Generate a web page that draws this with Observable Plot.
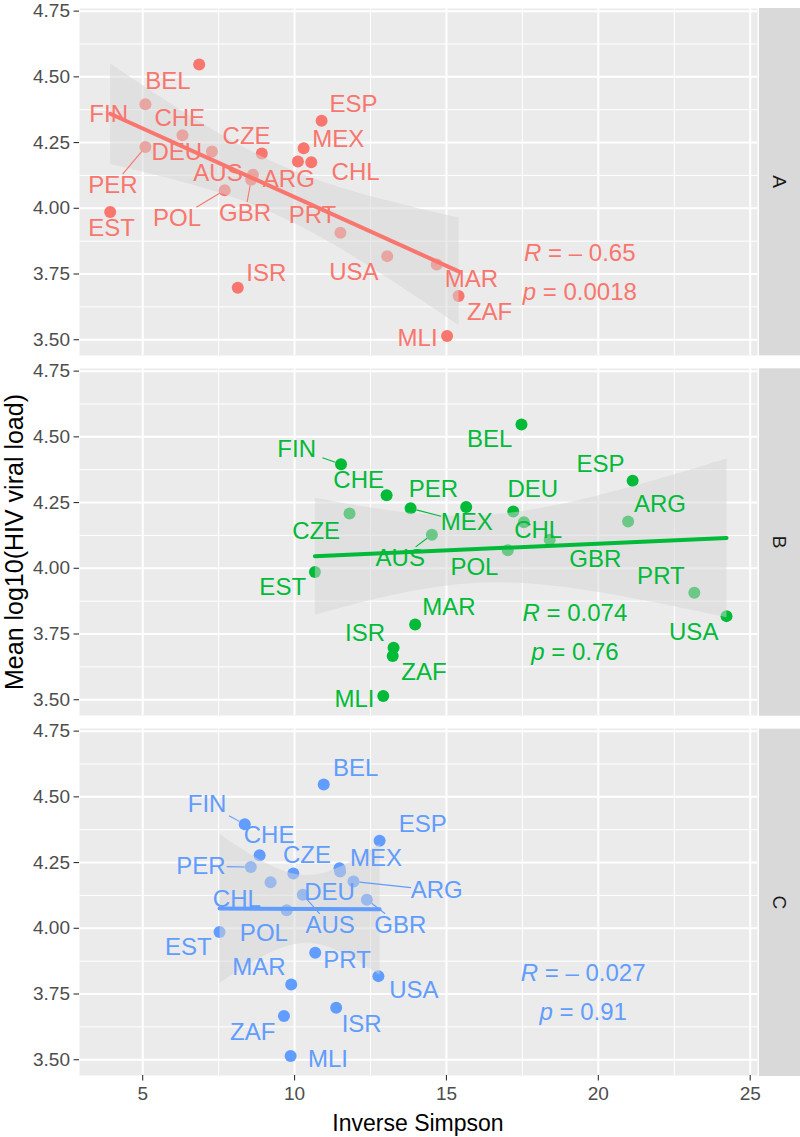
<!DOCTYPE html>
<html>
<head>
<meta charset="utf-8">
<script src="https://cdn.jsdelivr.net/npm/d3@7"></script>
<script src="https://cdn.jsdelivr.net/npm/@observablehq/plot@0.6"></script>
<style>
  body { margin: 0; background: #ffffff; }
  #chart { width: 800px; height: 1137px; }
</style>
</head>
<body>
<div id="chart"></div>
<script>
// ---------------- data ----------------
const panels = ["A", "B", "C"];
const panelColors = ["#F8766D", "#00BA38", "#619CFF"];

const countries = ["ARG","AUS","BEL","CHE","CHL","CZE","DEU","ESP","EST","FIN",
                   "GBR","ISR","MAR","MEX","MLI","PER","POL","PRT","USA","ZAF"];

// Mean log10(HIV viral load) per country (same in every panel)
const viralLoad = [4.178, 4.128, 4.547, 4.278, 4.175, 4.208, 4.216, 4.333, 3.986, 4.396,
                   4.109, 3.698, 3.786, 4.228, 3.514, 4.233, 4.069, 3.907, 3.818, 3.666];

// Inverse Simpson per panel
const invSimpsonA = [10.11, 8.63, 6.86, 6.31, 10.55, 8.92, 7.28, 10.89, 3.93, 5.09,
                     8.57, 8.13, 14.68, 10.30, 15.02, 5.09, 7.70, 11.51, 13.05, 15.40];
const invSimpsonB = [20.98, 14.52, 17.47, 13.03, 17.55, 11.81, 17.20, 21.13, 10.67, 11.53,
                     18.40, 13.26, 13.97, 13.82, 12.92, 15.65, 17.02, 23.16, 24.22, 13.23];
const invSimpsonC = [11.94, 10.27, 10.96, 8.85, 9.21, 9.96, 11.50, 12.80, 7.53, 8.36,
                     12.38, 11.37, 9.89, 11.48, 9.87, 8.56, 9.74, 10.68, 12.76, 9.65];

// Repelled label anchors (data units), as placed in the reference
const labelPosA = [[9.81,4.111],[7.48,4.132],[5.83,4.482],[6.22,4.342],[12.01,4.138],[8.42,4.274],
                   [6.12,4.214],[11.94,4.396],[3.98,3.922],[3.88,4.358],[8.37,3.979],[9.07,3.751],
                   [15.82,3.730],[11.44,4.264],[14.05,3.504],[4.02,4.086],[6.13,3.960],[10.59,3.973],
                   [11.95,3.755],[16.42,3.605]];
const labelPosB = [[22.03,4.243],[13.48,4.037],[16.42,4.489],[12.11,4.334],[18.02,4.144],[10.71,4.142],
                   [17.84,4.300],[20.07,4.397],[9.61,3.926],[10.07,4.454],[19.90,4.034],[12.32,3.752],
                   [15.08,3.850],[15.67,4.173],[11.97,3.500],[14.57,4.300],[15.92,4.005],[22.06,3.971],
                   [23.14,3.756],[14.26,3.604]];
const labelPosC = [[14.68,4.144],[11.17,4.011],[12.01,4.607],[9.16,4.352],[8.10,4.112],[10.41,4.277],
                   [11.15,4.137],[14.22,4.397],[6.50,3.927],[7.12,4.472],[13.48,4.011],[12.21,3.633],
                   [8.83,3.850],[12.68,4.266],[11.10,3.503],[6.92,4.236],[8.99,3.982],[11.73,3.879],
                   [13.93,3.765],[8.62,3.603]];

// Labels that have a leader segment in the reference
const leadersA = ["PER","POL","GBR"];
const leadersB = ["FIN","MEX","AUS"];
const leadersC = ["FIN","PER","ARG","GBR","AUS"];

// Correlation annotations
const statR = ["R = – 0.65", "R = 0.074", "R = – 0.027"];
const statP = ["p = 0.0018", "p = 0.76", "p = 0.91"];
const statX = [19.39, 19.23, 19.50];
const statRY = 3.83;
const statPY = 3.68;

// Axis ticks
const xTicks = [5, 10, 15, 20, 25];
const xMinorTicks = [7.5, 12.5, 17.5, 22.5];
const yTicks = [3.50, 3.75, 4.00, 4.25, 4.50, 4.75];
const yMinorTicks = [3.625, 3.875, 4.125, 4.375, 4.625];

const xTitle = "Inverse Simpson";
const yTitle = "Mean log10(HIV viral load)";

// ---------------- layout ----------------
const W = 800, H = 1137;
const mL = 79, mR = 43, mT = 8, mB = 61;
const xDomain = [2.92, 25.24];
const yDomain = [3.44, 4.76];
const fyPad = 0.036;
const step = (H - mT - mB) / (panels.length - fyPad);
const bandH = step * (1 - fyPad);
const kx = (W - mL - mR) / (xDomain[1] - xDomain[0]);
const ky = bandH / (yDomain[1] - yDomain[0]);
const labelSize = 24;
const ptR = 6;

const invSimpson = [invSimpsonA, invSimpsonB, invSimpsonC];
const labelPos = [labelPosA, labelPosB, labelPosC];
const leaders = [leadersA, leadersB, leadersC];

const rows = [];
const leaderRows = [];
panels.forEach((p, pi) => {
  countries.forEach((c, i) => {
    const [lx, ly] = labelPos[pi][i];
    const row = {panel: p, country: c, x: invSimpson[pi][i], y: viralLoad[i], lx, ly};
    rows.push(row);
    if (leaders[pi].includes(c)) {
      // pixel vector from label centre to point
      const dx = (row.x - lx) * kx;
      const dy = -(row.y - ly) * ky;
      const hw = c.length * 0.66 * labelSize / 2 + 2;
      const hh = 0.72 * labelSize / 2 + 3;
      const t = Math.min(dx ? hw / Math.abs(dx) : Infinity, dy ? hh / Math.abs(dy) : Infinity);
      const dist = Math.hypot(dx, dy);
      const te = 1 - (ptR) / dist;
      if (t < te) {
        leaderRows.push({
          panel: p,
          x1: lx + (t * dx) / kx, y1: ly - (t * dy) / ky,
          x2: lx + (te * dx) / kx, y2: ly - (te * dy) / ky
        });
      }
    }
  });
});

const statRows = [];
panels.forEach((p, pi) => {
  statRows.push({panel: p, sx: statX[pi], sy: statRY, label: statR[pi]});
  statRows.push({panel: p, sx: statX[pi], sy: statPY, label: statP[pi]});
});

// ---------------- chart ----------------
const chart = Plot.plot({
  width: W, height: H,
  marginLeft: mL, marginRight: mR, marginTop: mT, marginBottom: mB,
  style: {fontFamily: "'Liberation Sans', Arial, Helvetica, sans-serif", background: "#ffffff", overflow: "visible"},
  x: {domain: xDomain},
  y: {domain: yDomain},
  fy: {domain: panels, paddingInner: fyPad, paddingOuter: 0, axis: null, label: null},
  color: {domain: panels, range: panelColors},
  marks: [
    Plot.frame({fill: "#EBEBEB", stroke: "none"}),
    Plot.gridX({ticks: xMinorTicks, stroke: "#ffffff", strokeOpacity: 1, strokeWidth: 1}),
    Plot.gridY({ticks: yMinorTicks, stroke: "#ffffff", strokeOpacity: 1, strokeWidth: 1}),
    Plot.gridX({ticks: xTicks, stroke: "#ffffff", strokeOpacity: 1, strokeWidth: 2}),
    Plot.gridY({ticks: yTicks, stroke: "#ffffff", strokeOpacity: 1, strokeWidth: 2}),
    Plot.axisY({ticks: yTicks, anchor: "left", tickFormat: d3.format(".2f"), tickSize: 5.5, tickPadding: 4,
                fontSize: 19, fill: "#4D4D4D", stroke: "#333333", strokeWidth: 1.1, label: null}),
    Plot.axisX({ticks: xTicks, anchor: "bottom", facetAnchor: "bottom", tickFormat: d => String(d),
                tickSize: 5.5, tickPadding: 5, fontSize: 19, fill: "#4D4D4D", stroke: "#333333",
                strokeWidth: 1.1, label: null}),
    Plot.dot(rows, {x: "x", y: "y", fy: "panel", fill: "panel", r: ptR, stroke: "none"}),
    Plot.linearRegressionY(rows, {x: "x", y: "y", fy: "panel", fill: "#D6D6D6", fillOpacity: 0.5, stroke: "none"}),
    Plot.link(leaderRows, {x1: "x1", y1: "y1", x2: "x2", y2: "y2", fy: "panel", stroke: "panel", strokeWidth: 1.1}),
    Plot.text(rows, {x: "lx", y: "ly", text: "country", fy: "panel", fill: "panel", fontSize: labelSize}),
    Plot.text(statRows, {x: "sx", y: "sy", text: "label", fy: "panel", fill: "panel", fontSize: labelSize}),
    Plot.linearRegressionY(rows, {x: "x", y: "y", fy: "panel", stroke: "panel", strokeWidth: 4, ci: 0})
  ]
});

document.getElementById("chart").appendChild(chart);

// ---------------- theme decorations (strips, titles, italics) ----------------
const svg = d3.select(chart);

// italic R / p in correlation labels
svg.selectAll("text").each(function () {
  const t = this.textContent;
  const m = /^([Rp])( = .*)$/.exec(t);
  if (m && this.childElementCount === 0) {
    this.textContent = "";
    d3.select(this).append("tspan").attr("font-style", "italic").text(m[1]);
    d3.select(this).append("tspan").text(m[2]);
  }
});

// facet strips on the right
panels.forEach((p, i) => {
  const top = mT + i * step;
  svg.append("rect")
    .attr("x", 759).attr("y", top).attr("width", W - 759).attr("height", bandH)
    .attr("fill", "#D9D9D9");
  svg.append("text")
    .attr("transform", `translate(${(759 + W) / 2},${top + bandH / 2}) rotate(90)`)
    .attr("text-anchor", "middle").attr("dy", "0.35em")
    .attr("font-size", 19).attr("fill", "#1A1A1A")
    .text(p);
});

// axis titles
svg.append("text")
  .attr("x", (mL + W - mR) / 2).attr("y", 1131)
  .attr("text-anchor", "middle").attr("font-size", 23).attr("fill", "#000000")
  .text(xTitle);
svg.append("text")
  .attr("transform", `translate(14,${(mT + H - mB) / 2}) rotate(-90)`)
  .attr("text-anchor", "middle").attr("dy", "0.35em")
  .attr("font-size", 25).attr("fill", "#000000")
  .text(yTitle);
</script>
</body>
</html>
